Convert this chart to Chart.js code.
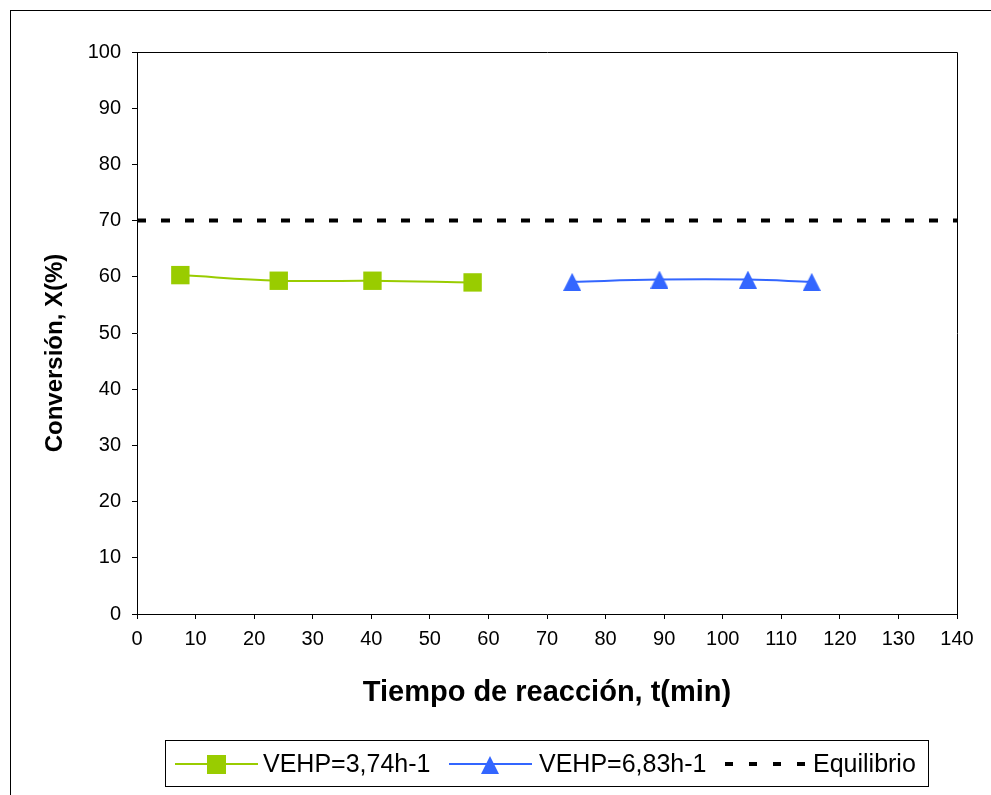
<!DOCTYPE html>
<html>
<head>
<meta charset="utf-8">
<script src="https://cdn.jsdelivr.net/npm/chart.js@4/dist/chart.umd.min.js"></script>
<style>
  html, body { margin: 0; padding: 0; background: #fff; }
  canvas { display: block; }
</style>
</head>
<body>
<canvas id="chart" width="991" height="795"></canvas>
<script>
// data
const greenTimes = [7.4, 24.2, 40.2, 57.3];
const greenConv = [60.3, 59.3, 59.3, 59.0];
const blueTimes = [74.3, 89.2, 104.3, 115.2];
const blueConv = [59.1, 59.5, 59.5, 59.1];
const equilTimes = [0, 140];
const equilConv = [70, 70];
const seriesLabels = ['VEHP=3,74h-1', 'VEHP=6,83h-1', 'Equilibrio'];

const FONT = '"Liberation Sans", Arial, sans-serif';

function toPoints(xs, ys) {
    return xs.map((x, i) => ({ x: x, y: ys[i] }));
}

// triangle marker as an image so its box is centred on the value (like Excel)
function makeTriangle(color, size) {
    const c = document.createElement('canvas');
    c.width = size;
    c.height = size;
    const g = c.getContext('2d');
    g.fillStyle = color;
    g.beginPath();
    g.moveTo(size / 2, 0);
    g.lineTo(size, size);
    g.lineTo(0, size);
    g.closePath();
    g.fill();
    return c;
}
const blueTri = makeTriangle('#3366FF', 18);

const frame = {
    id: 'frame',
    beforeDraw: (chart) => {
        const ctx = chart.ctx;
        ctx.save();
        ctx.fillStyle = '#fff';
        ctx.fillRect(0, 0, chart.width, chart.height);
        ctx.strokeStyle = '#000';
        ctx.lineWidth = 1;
        ctx.strokeRect(10.5, 10.5, 1000, 1000);
        ctx.restore();
    },
    beforeDatasetsDraw: (chart) => {
        const a = chart.chartArea;
        const ctx = chart.ctx;
        ctx.save();
        ctx.strokeStyle = '#000';
        ctx.lineWidth = 1;
        ctx.beginPath();
        ctx.moveTo(Math.round(a.left) + 0.5, Math.round(a.top) + 0.5);
        ctx.lineTo(Math.round(a.right) + 0.5, Math.round(a.top) + 0.5);
        ctx.lineTo(Math.round(a.right) + 0.5, Math.round(a.bottom) + 0.5);
        ctx.stroke();
        ctx.restore();
    }
};

const legendBox = {
    id: 'legendBox',
    afterDraw: (chart) => {
        const ctx = chart.ctx;
        const ds = chart.data.datasets;
        const cy = 764;
        ctx.save();
        ctx.fillStyle = '#fff';
        ctx.fillRect(166, 740, 762, 46);
        ctx.strokeStyle = '#000';
        ctx.lineWidth = 1;
        ctx.strokeRect(165.5, 740.5, 763, 46);

        ctx.font = '25px ' + FONT;
        ctx.textBaseline = 'middle';
        ctx.fillStyle = '#000';

        // green series
        ctx.strokeStyle = ds[0].borderColor;
        ctx.lineWidth = 2;
        ctx.beginPath();
        ctx.moveTo(175, cy);
        ctx.lineTo(258, cy);
        ctx.stroke();
        ctx.fillStyle = ds[0].pointBackgroundColor;
        ctx.fillRect(207, cy - 9, 19, 19);
        ctx.fillStyle = '#000';
        ctx.fillText(ds[0].label, 263, cy + 1);

        // blue series
        ctx.strokeStyle = ds[1].borderColor;
        ctx.beginPath();
        ctx.moveTo(449, cy);
        ctx.lineTo(532, cy);
        ctx.stroke();
        ctx.drawImage(blueTri, 490 - 9, cy - 8);
        ctx.fillText(ds[1].label, 539, cy + 1);

        // equilibrium
        ctx.fillStyle = '#000';
        for (let i = 0; i < 4; i++) {
            ctx.fillRect(725 + i * 24, cy - 2, 8, 4);
        }
        ctx.fillText(ds[2].label, 813, cy + 1);
        ctx.restore();
    }
};

const ctx = document.getElementById('chart').getContext('2d');
new Chart(ctx, {
    type: 'line',
    data: {
        datasets: [{
            label: seriesLabels[0],
            data: toPoints(greenTimes, greenConv),
            borderColor: '#99CC00',
            backgroundColor: '#99CC00',
            pointBackgroundColor: '#99CC00',
            pointBorderColor: '#99CC00',
            borderWidth: 2,
            pointStyle: 'rect',
            pointRadius: 13,
            pointBorderWidth: 0,
            tension: 0.4,
            fill: false
        }, {
            label: seriesLabels[1],
            data: toPoints(blueTimes, blueConv),
            borderColor: '#3366FF',
            backgroundColor: '#3366FF',
            pointBackgroundColor: '#3366FF',
            borderWidth: 2,
            pointStyle: blueTri,
            pointRadius: 9,
            tension: 0.4,
            fill: false
        }, {
            label: seriesLabels[2],
            data: toPoints(equilTimes, equilConv),
            borderColor: '#000',
            borderWidth: 4,
            borderDash: [9, 15],
            borderCapStyle: 'butt',
            pointRadius: 0,
            fill: false
        }]
    },
    options: {
        responsive: false,
        animation: false,
        layout: {
            padding: { top: 52, right: 34, bottom: 0, left: 0 }
        },
        scales: {
            x: {
                type: 'linear',
                min: 0,
                max: 140,
                afterFit: (scale) => { scale.height = 181; },
                ticks: {
                    stepSize: 10,
                    color: '#000',
                    padding: 8,
                    maxRotation: 0,
                    font: { family: FONT, size: 20 }
                },
                grid: {
                    drawOnChartArea: false,
                    drawTicks: true,
                    tickLength: 5,
                    color: '#000'
                },
                border: { color: '#000', width: 1 },
                title: {
                    display: true,
                    text: 'Tiempo de reacción, t(min)',
                    color: '#000',
                    font: { family: FONT, size: 29, weight: 'bold' },
                    padding: { top: 0, bottom: 85 }
                }
            },
            y: {
                min: 0,
                max: 100,
                afterFit: (scale) => { scale.width = 137; },
                ticks: {
                    stepSize: 10,
                    color: '#000',
                    padding: 11,
                    font: { family: FONT, size: 20 }
                },
                grid: {
                    drawOnChartArea: false,
                    drawTicks: true,
                    tickLength: 5,
                    color: '#000'
                },
                border: { color: '#000', width: 1 },
                title: {
                    display: true,
                    // trailing spaces push the visible text down, as in the reference
                    text: 'Conversión, X(%)      ',
                    color: '#000',
                    font: { family: FONT, size: 24, weight: 'bold' },
                    padding: { top: 41, bottom: 0 }
                }
            }
        },
        plugins: {
            legend: { display: false },
            tooltip: { enabled: false }
        }
    },
    plugins: [frame, legendBox]
});
</script>
</body>
</html>
